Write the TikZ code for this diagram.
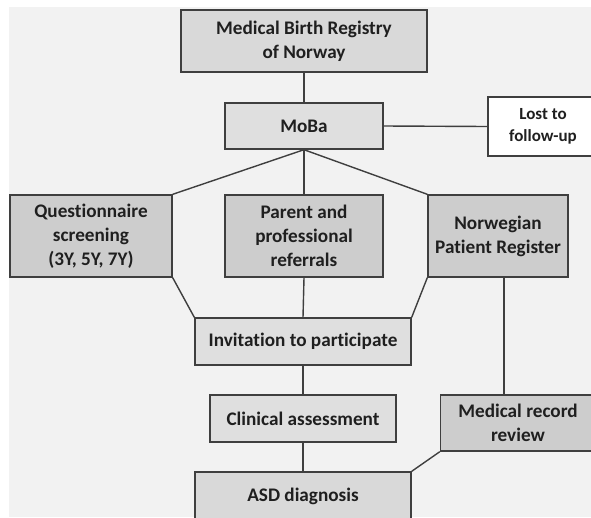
\documentclass[tikz,border=0pt]{standalone}
\usepackage{fontspec}
\setmainfont{Carlito}[Ligatures={NoCommon,NoRare,NoContextual}]
\usepackage{tikz}
\definecolor{bggray}{HTML}{F2F2F2}
\definecolor{edgegray}{HTML}{3F3F3F}
\definecolor{lightbox}{HTML}{DFDFDF}
\definecolor{midbox}{HTML}{D9D9D9}
\definecolor{darkbox}{HTML}{CDCDCD}

\begin{document}
\begin{tikzpicture}[x=1pt,y=-1pt,
    box/.style={draw=edgegray,line width=1.4pt,inner sep=0pt,align=center,
      font=\fontsize{19.2}{24}\selectfont\bfseries,text=black!88},
    link/.style={draw=edgegray,line width=1.4pt}]
    \useasboundingbox (0,0) rectangle (591,517);
    \fill[white] (0,0) rectangle (591,517);
    \fill[bggray] (9,7) rectangle (591,517);
    \node[box,fill=midbox,minimum width=246pt,minimum height=62pt] (mbr) at (304,41) {Medical Birth Registry\\of Norway};
    \node[box,fill=lightbox,minimum width=158pt,minimum height=46pt] (moba) at (304,126) {MoBa};
    \node[box,fill=white,minimum width=110pt,minimum height=59pt,font=\fontsize{17}{22}\selectfont\bfseries] (lost) at (543,126.5) {Lost to\\follow-up};
    \node[box,fill=darkbox,minimum width=162pt,minimum height=82pt] (quest) at (91,236) {Questionnaire\\screening\\(3Y, 5Y, 7Y)};
    \node[box,fill=darkbox,minimum width=158pt,minimum height=82pt] (refer) at (304,236) {Parent and\\professional\\referrals};
    \node[box,fill=darkbox,minimum width=140pt,minimum height=82pt] (npr) at (498,236) {Norwegian\\Patient Register};
    \node[box,fill=lightbox,minimum width=216pt,minimum height=47pt] (invite) at (303,341.5) {Invitation to participate};
    \node[box,fill=lightbox,minimum width=186pt,minimum height=47pt] (clinic) at (303,418.5) {Clinical assessment};
    \node[box,fill=darkbox,minimum width=155pt,minimum height=56pt] (record) at (518,423) {Medical record\\review};
    \node[box,fill=midbox,minimum width=216pt,minimum height=48pt] (asd) at (303,496) {ASD diagnosis};
    \coordinate (rlink) at (504,0);
    \draw[link] (mbr.south) -- (moba.north);
    \draw[link] (moba.east) -- (lost.west);
    \draw[link] (quest.north east) -- (moba.south) -- (npr.north west);
    \draw[link] (moba.south) -- (refer.north);
    \draw[link] (quest.south east) -- (invite.north west);
    \draw[link] (refer.south) -- (invite.north);
    \draw[link] (npr.south west) -- (invite.north east);
    \draw[link] (invite.south) -- (clinic.north);
    \draw[link] (clinic.south) -- (asd.north);
    \draw[link] (npr.south -| rlink) -- (record.north -| rlink);
    \draw[link] (record.south west) -- (asd.north east);
\end{tikzpicture}
\end{document}
